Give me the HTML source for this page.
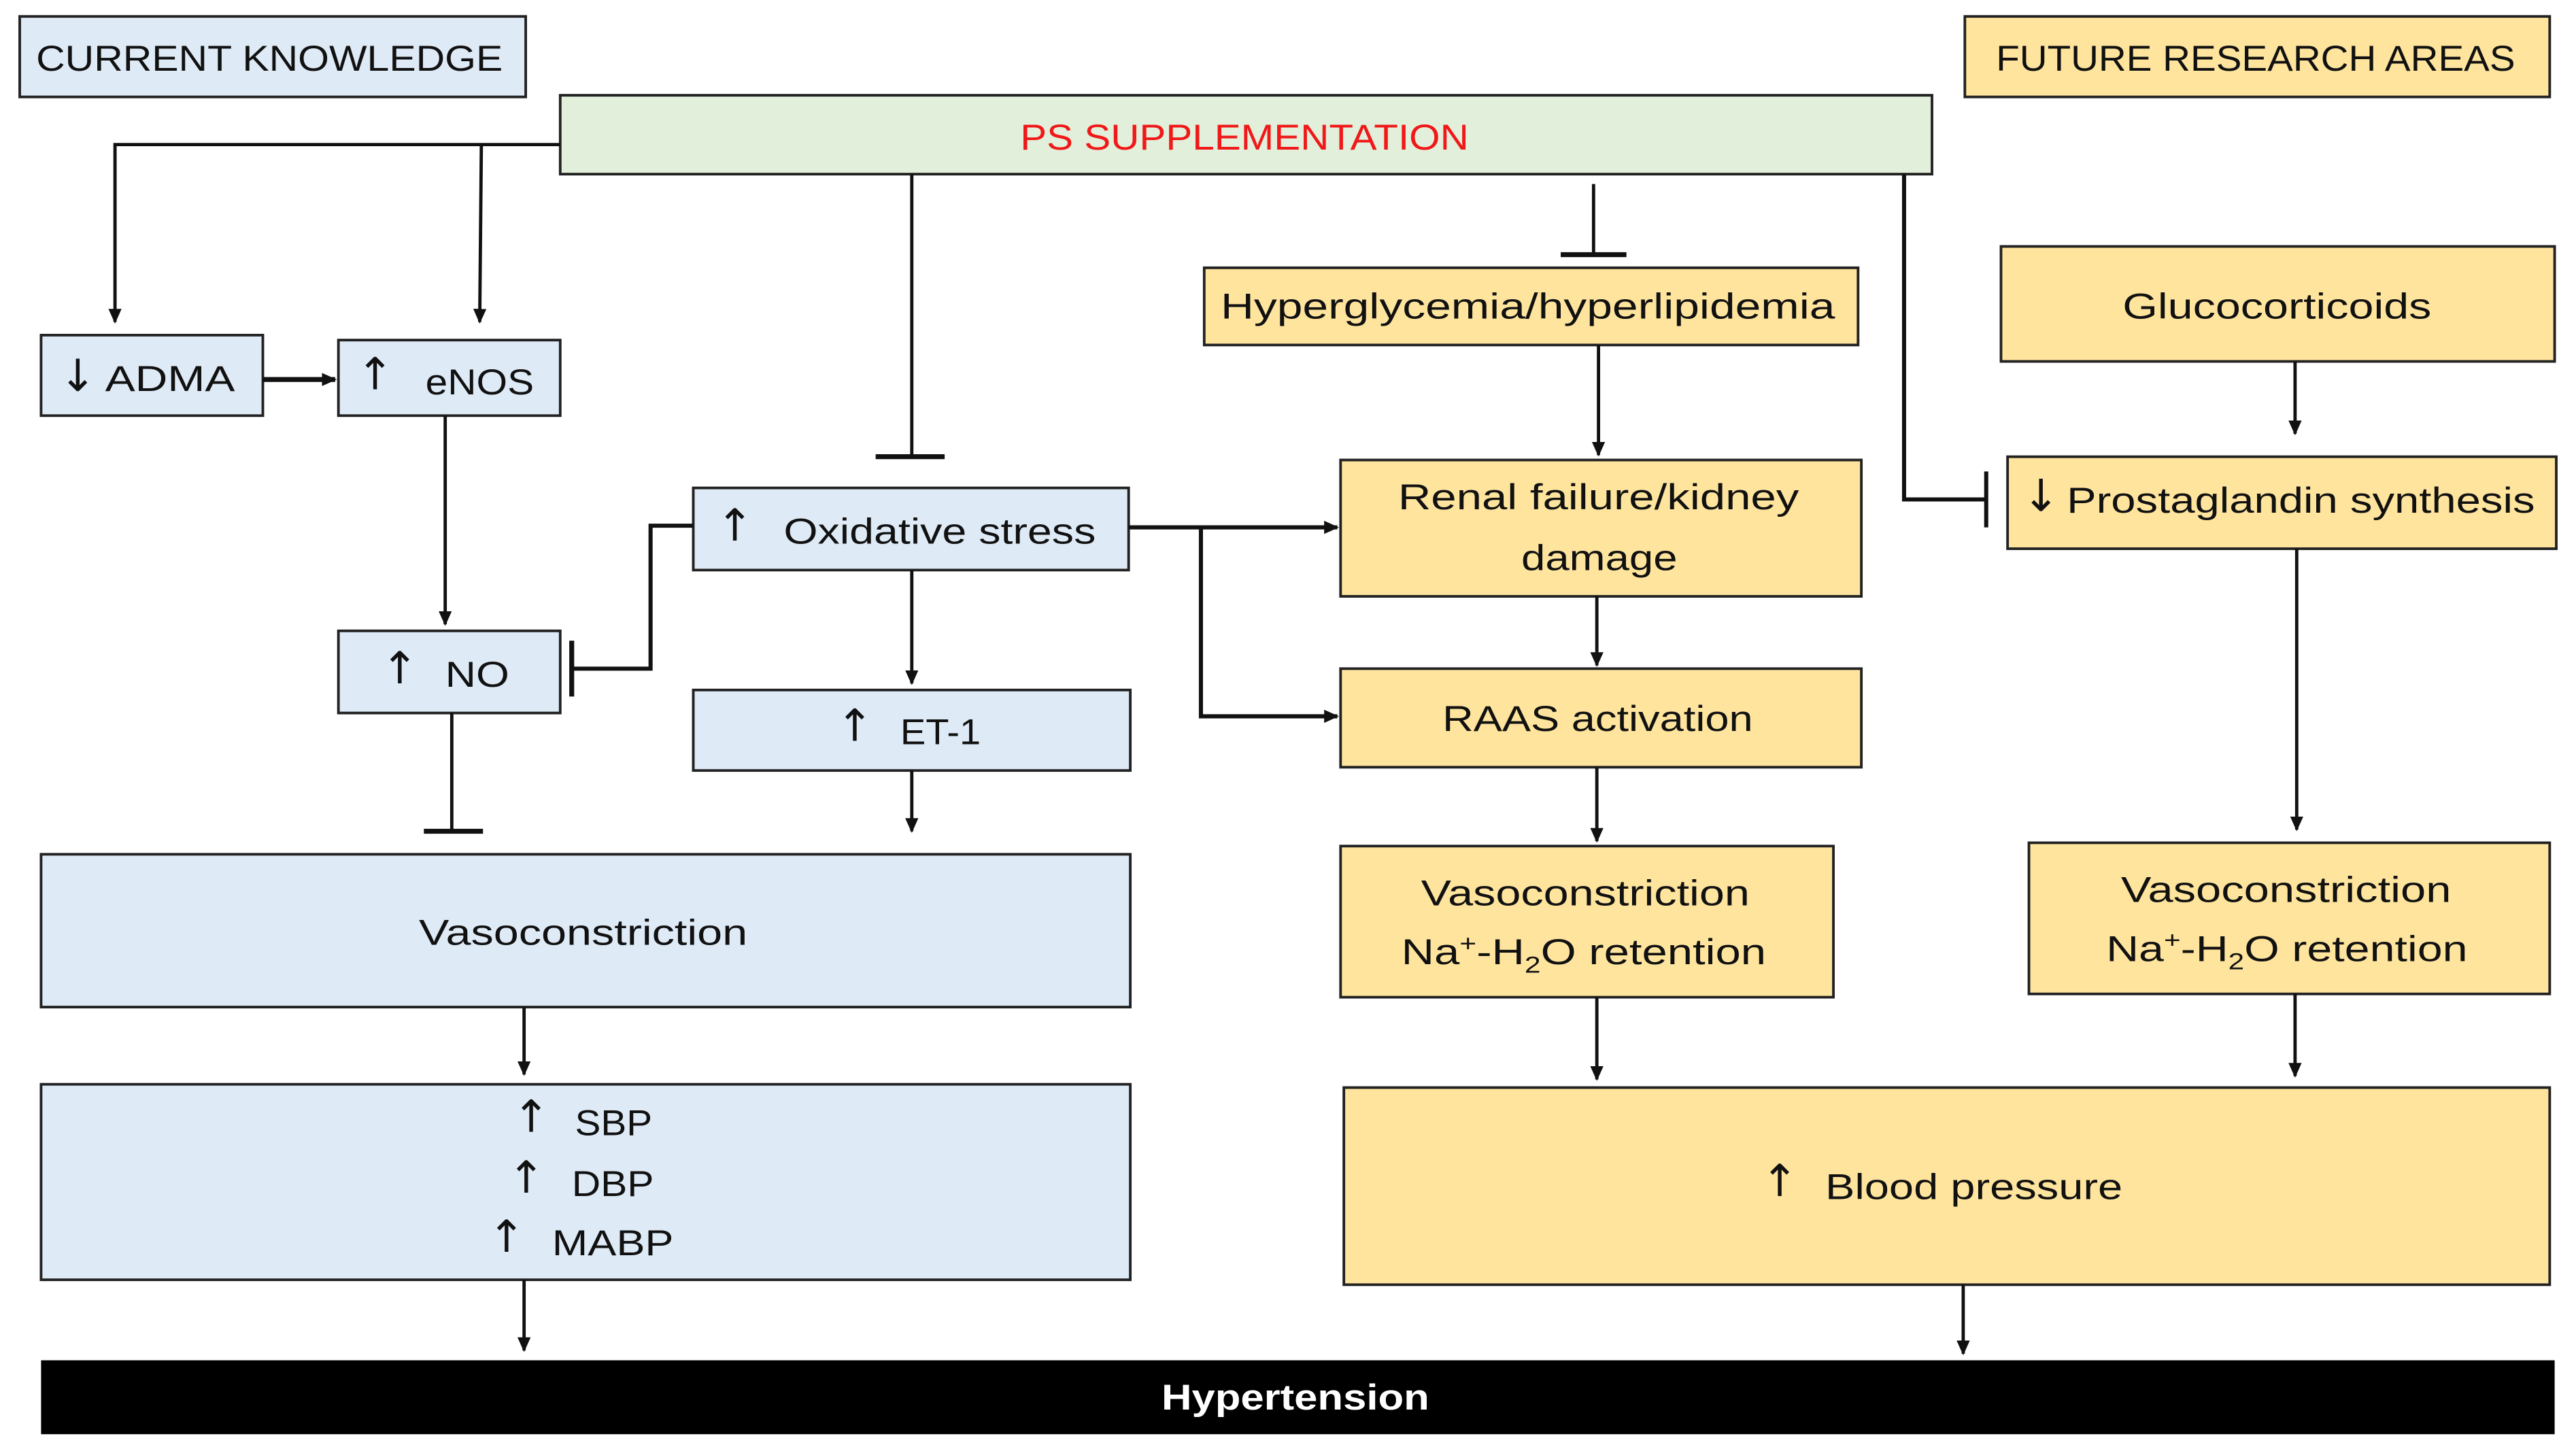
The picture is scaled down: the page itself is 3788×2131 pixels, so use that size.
<!DOCTYPE html>
<html><head><meta charset="utf-8"><style>
html,body{margin:0;padding:0;background:#fff;}
svg{display:block;}
text{font-family:"Liberation Sans",sans-serif;font-size:22px;fill:#111;}
text.ar{font-family:"DejaVu Sans",sans-serif;font-size:27px;}
</style></head><body>
<svg width="3788" height="2131" viewBox="0 0 1568 882" preserveAspectRatio="none" xmlns="http://www.w3.org/2000/svg">
<defs>
<marker id="a" markerWidth="10" markerHeight="10" refX="8" refY="5" orient="auto" markerUnits="userSpaceOnUse">
<path d="M0,1 L9,5 L0,9 Z" fill="#111"/></marker>
</defs>
<g stroke="#222" stroke-width="1.6">
<rect x="12" y="10" width="308" height="49" fill="#deeaf6"/>
<rect x="1196" y="10" width="356" height="49" fill="#fee49d"/>
<rect x="341" y="58" width="835" height="48" fill="#e2efda"/>
<rect x="25" y="204" width="135" height="49" fill="#deeaf6"/>
<rect x="206" y="207" width="135" height="46" fill="#deeaf6"/>
<rect x="206" y="384" width="135" height="50" fill="#deeaf6"/>
<rect x="422" y="297" width="265" height="50" fill="#deeaf6"/>
<rect x="422" y="420" width="266" height="49" fill="#deeaf6"/>
<rect x="25" y="520" width="663" height="93" fill="#deeaf6"/>
<rect x="25" y="660" width="663" height="119" fill="#deeaf6"/>
<rect x="733" y="163" width="398" height="47" fill="#fee49d"/>
<rect x="816" y="280" width="317" height="83" fill="#fee49d"/>
<rect x="816" y="407" width="317" height="60" fill="#fee49d"/>
<rect x="816" y="515" width="300" height="92" fill="#fee49d"/>
<rect x="818" y="662" width="734" height="120" fill="#fee49d"/>
<rect x="1218" y="150" width="337" height="70" fill="#fee49d"/>
<rect x="1222" y="278" width="334" height="56" fill="#fee49d"/>
<rect x="1235" y="513" width="317" height="92" fill="#fee49d"/>
</g>
<rect x="25" y="828" width="1530" height="45" fill="#000"/>
<g stroke="#111" stroke-width="2" fill="none">
<polyline points="341,88 70,88 70,196" marker-end="url(#a)"/>
<line x1="293" y1="88" x2="292" y2="196" marker-end="url(#a)"/>
<line x1="160" y1="231" x2="204" y2="231" stroke-width="3" marker-end="url(#a)"/>
<line x1="271" y1="253" x2="271" y2="380" marker-end="url(#a)"/>
<line x1="555" y1="106" x2="555" y2="277"/>
<line x1="533" y1="278" x2="575" y2="278" stroke-width="3"/>
<polyline points="422,320 396,320 396,407 348,407" stroke-width="2.5"/>
<line x1="348" y1="390" x2="348" y2="424" stroke-width="3"/>
<line x1="555" y1="347" x2="555" y2="416" marker-end="url(#a)"/>
<line x1="555" y1="469" x2="555" y2="506" marker-end="url(#a)"/>
<line x1="275" y1="434" x2="275" y2="505"/>
<line x1="258" y1="506" x2="294" y2="506" stroke-width="3"/>
<line x1="319" y1="613" x2="319" y2="654" marker-end="url(#a)"/>
<line x1="319" y1="779" x2="319" y2="822" marker-end="url(#a)"/>
<line x1="687" y1="321" x2="814" y2="321" stroke-width="2.5" marker-end="url(#a)"/>
<polyline points="731,321 731,436 814,436" stroke-width="2.5" marker-end="url(#a)"/>
<line x1="970" y1="112" x2="970" y2="154"/>
<line x1="950" y1="155" x2="990" y2="155" stroke-width="3"/>
<line x1="973" y1="210" x2="973" y2="277" marker-end="url(#a)"/>
<line x1="972" y1="363" x2="972" y2="405" marker-end="url(#a)"/>
<line x1="972" y1="467" x2="972" y2="512" marker-end="url(#a)"/>
<line x1="972" y1="607" x2="972" y2="657" marker-end="url(#a)"/>
<line x1="1195" y1="782" x2="1195" y2="824" marker-end="url(#a)"/>
<polyline points="1159,106 1159,304 1209,304" stroke-width="2.5"/>
<line x1="1209" y1="287" x2="1209" y2="321" stroke-width="2.5"/>
<line x1="1397" y1="220" x2="1397" y2="264" marker-end="url(#a)"/>
<line x1="1398" y1="334" x2="1398" y2="505" marker-end="url(#a)"/>
<line x1="1397" y1="605" x2="1397" y2="655" marker-end="url(#a)"/>
</g>
<g>
<text x="22" y="43" textLength="284" lengthAdjust="spacingAndGlyphs">CURRENT KNOWLEDGE</text>
<text x="1215" y="43" textLength="316" lengthAdjust="spacingAndGlyphs">FUTURE RESEARCH AREAS</text>
<text x="621" y="91" textLength="273" lengthAdjust="spacingAndGlyphs" style="fill:#f01818">PS SUPPLEMENTATION</text>
<text class="ar" x="36" y="238">↓</text><text x="64" y="238" textLength="79" lengthAdjust="spacingAndGlyphs">ADMA</text>
<text class="ar" x="217" y="237">↑</text><text x="259" y="240" textLength="66" lengthAdjust="spacingAndGlyphs">eNOS</text>
<text class="ar" x="232" y="416">↑</text><text x="271" y="418" textLength="39" lengthAdjust="spacingAndGlyphs">NO</text>
<text class="ar" x="436" y="329">↑</text><text x="477" y="331" textLength="190" lengthAdjust="spacingAndGlyphs">Oxidative stress</text>
<text class="ar" x="509" y="451">↑</text><text x="548" y="453" textLength="49" lengthAdjust="spacingAndGlyphs">ET-1</text>
<text x="255" y="575" textLength="200" lengthAdjust="spacingAndGlyphs">Vasoconstriction</text>
<text class="ar" x="312" y="689">↑</text><text x="350" y="691" textLength="47" lengthAdjust="spacingAndGlyphs">SBP</text>
<text class="ar" x="309" y="726">↑</text><text x="348" y="728" textLength="50" lengthAdjust="spacingAndGlyphs">DBP</text>
<text class="ar" x="297" y="762">↑</text><text x="336" y="764" textLength="74" lengthAdjust="spacingAndGlyphs">MABP</text>
<text x="707" y="858" textLength="163" lengthAdjust="spacingAndGlyphs" style="fill:#fff;font-weight:bold">Hypertension</text>
<text x="743" y="194" textLength="374" lengthAdjust="spacingAndGlyphs">Hyperglycemia/hyperlipidemia</text>
<text x="851" y="310" textLength="244" lengthAdjust="spacingAndGlyphs">Renal failure/kidney</text>
<text x="926" y="347" textLength="95" lengthAdjust="spacingAndGlyphs">damage</text>
<text x="878" y="445" textLength="189" lengthAdjust="spacingAndGlyphs">RAAS activation</text>
<text x="865" y="551" textLength="200" lengthAdjust="spacingAndGlyphs">Vasoconstriction</text>
<text x="853" y="587" font-size="23" textLength="222" lengthAdjust="spacingAndGlyphs">Na<tspan font-size="14" dy="-8">+</tspan><tspan dy="8">-H</tspan><tspan font-size="14" dy="5">2</tspan><tspan dy="-5">O retention</tspan></text>
<text class="ar" x="1072" y="728">↑</text><text x="1111" y="730" textLength="181" lengthAdjust="spacingAndGlyphs">Blood pressure</text>
<text x="1292" y="194" textLength="188" lengthAdjust="spacingAndGlyphs">Glucocorticoids</text>
<text class="ar" x="1231" y="311">↓</text><text x="1258" y="312" textLength="285" lengthAdjust="spacingAndGlyphs">Prostaglandin synthesis</text>
<text x="1291" y="549" textLength="201" lengthAdjust="spacingAndGlyphs">Vasoconstriction</text>
<text x="1282" y="585" font-size="23" textLength="220" lengthAdjust="spacingAndGlyphs">Na<tspan font-size="14" dy="-8">+</tspan><tspan dy="8">-H</tspan><tspan font-size="14" dy="5">2</tspan><tspan dy="-5">O retention</tspan></text>
</g>
</svg>
</body></html>
